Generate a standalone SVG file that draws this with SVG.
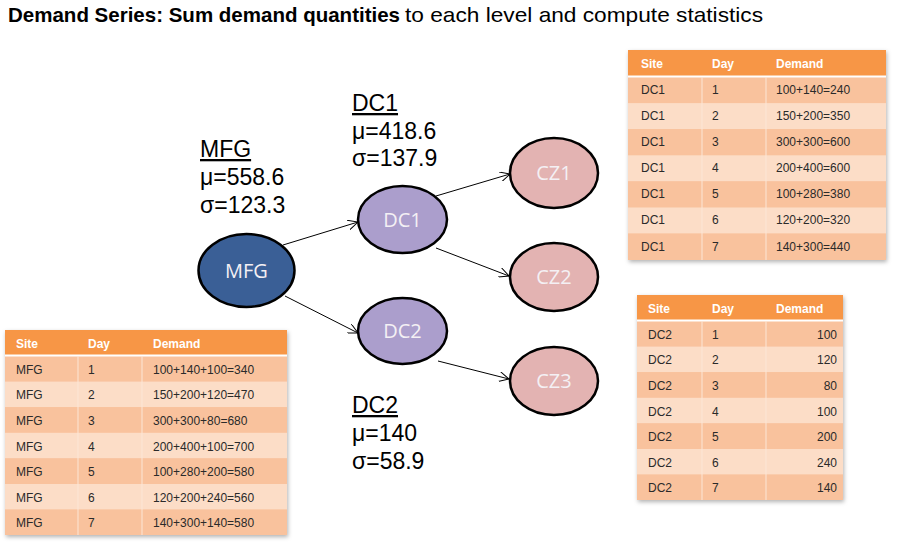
<svg xmlns="http://www.w3.org/2000/svg" width="898" height="551" viewBox="0 0 898 551">
<defs>
<style>
.title{font-family:"Liberation Sans",Arial,sans-serif;font-size:21px;fill:#000}
.lbl{font-family:"Liberation Sans",Arial,sans-serif;font-size:23px;fill:#000}
.nd{stroke:#000;stroke-width:2.5}
.ntx{font-family:"Open Sans","Liberation Sans",sans-serif;font-size:20px;fill:#F4F0F4;text-anchor:middle}
.hdr{fill:#F79646}
.odd{fill:#F9C29D}
.even{fill:#FCDDC7}
.th{font-family:"Liberation Sans",Arial,sans-serif;font-size:12px;font-weight:bold;fill:#fff}
.td{font-family:"Liberation Sans",Arial,sans-serif;font-size:12px;fill:#2a2a2a}
.sep{stroke:#FCE6D6;stroke-width:1}
.conn{stroke:#000;stroke-width:1;fill:none;marker-end:url(#arr)}
</style>
<marker id="arr" viewBox="0 0 10 10" refX="10" refY="5" markerWidth="10" markerHeight="10" markerUnits="userSpaceOnUse" orient="auto">
<path d="M0,0 L10,5 L0,10" fill="none" stroke="#000" stroke-width="1"/>
</marker>
<filter id="sh" x="-5%" y="-5%" width="110%" height="110%">
<feDropShadow dx="1" dy="2" stdDeviation="2" flood-color="#000" flood-opacity="0.3"/>
</filter>
</defs>
<rect width="898" height="551" fill="#fff"/>
<g id="title">
<text class="title" x="8" y="22" font-weight="bold" textLength="392" lengthAdjust="spacingAndGlyphs">Demand Series: Sum demand quantities</text>
<text class="title" x="405" y="22" textLength="358" lengthAdjust="spacingAndGlyphs">to each level and compute statistics</text>
</g>
<g id="connectors">
<line class="conn" x1="283" y1="245" x2="358" y2="222"/>
<line class="conn" x1="285" y1="296" x2="358" y2="333"/>
<line class="conn" x1="436" y1="196" x2="510" y2="174"/>
<line class="conn" x1="436" y1="248" x2="509" y2="276"/>
<line class="conn" x1="438" y1="361" x2="509" y2="379"/>
</g>
<g id="node-MFG"><ellipse class="nd" cx="246.5" cy="270.5" rx="48" ry="36.5" fill="#3A5F96"/><text class="ntx" x="246.5" y="277.5">MFG</text></g>
<g id="node-DC1"><ellipse class="nd" cx="402.5" cy="219.5" rx="44.5" ry="33.5" fill="#AB9ECC"/><text class="ntx" x="402.5" y="226.5">DC1</text></g>
<g id="node-DC2"><ellipse class="nd" cx="402.5" cy="331" rx="44.5" ry="33" fill="#AB9ECC"/><text class="ntx" x="402.5" y="338">DC2</text></g>
<g id="node-CZ1"><ellipse class="nd" cx="554" cy="173" rx="44" ry="35" fill="#E3B3B2"/><text class="ntx" x="554" y="180">CZ1</text></g>
<g id="node-CZ2"><ellipse class="nd" cx="554" cy="277" rx="44" ry="34" fill="#E3B3B2"/><text class="ntx" x="554" y="284">CZ2</text></g>
<g id="node-CZ3"><ellipse class="nd" cx="554" cy="381" rx="44" ry="34" fill="#E3B3B2"/><text class="ntx" x="554" y="388">CZ3</text></g>
<g id="label-MFG">
<text class="lbl" x="200" y="157" text-decoration="underline">MFG</text>
<text class="lbl" x="200" y="185">μ=558.6</text>
<text class="lbl" x="200" y="213">σ=123.3</text>
</g>
<g id="label-DC1">
<text class="lbl" x="352" y="111" text-decoration="underline">DC1</text>
<text class="lbl" x="352" y="139">μ=418.6</text>
<text class="lbl" x="352" y="166">σ=137.9</text>
</g>
<g id="label-DC2">
<text class="lbl" x="352" y="413" text-decoration="underline">DC2</text>
<text class="lbl" x="352" y="441">μ=140</text>
<text class="lbl" x="352" y="469">σ=58.9</text>
</g>
<g id="table-DC1">
<rect x="628" y="50" width="258" height="210" fill="#F9C29D" filter="url(#sh)"/>
<rect class="hdr" x="628" y="50" width="258" height="26"/>
<rect class="odd" x="628" y="77" width="258" height="26.1"/>
<rect class="even" x="628" y="103.1" width="258" height="26.1"/>
<rect class="odd" x="628" y="129.2" width="258" height="26.1"/>
<rect class="even" x="628" y="155.3" width="258" height="26.1"/>
<rect class="odd" x="628" y="181.4" width="258" height="26.1"/>
<rect class="even" x="628" y="207.5" width="258" height="26.1"/>
<rect class="odd" x="628" y="233.6" width="258" height="26.4" fill="#F8B88B"/>
<line x1="628" y1="76.5" x2="886" y2="76.5" stroke="#fff" stroke-width="2"/>
<line class="sep" x1="702" y1="77" x2="702" y2="260"/>
<line class="sep" x1="766" y1="77" x2="766" y2="260"/>
<text class="th" x="641" y="68">Site</text><text class="th" x="712" y="68">Day</text><text class="th" x="776" y="68">Demand</text>
<text class="td" x="641" y="94">DC1</text><text class="td" x="712" y="94">1</text><text class="td" x="776" y="94">100+140=240</text>
<text class="td" x="641" y="120">DC1</text><text class="td" x="712" y="120">2</text><text class="td" x="776" y="120">150+200=350</text>
<text class="td" x="641" y="146">DC1</text><text class="td" x="712" y="146">3</text><text class="td" x="776" y="146">300+300=600</text>
<text class="td" x="641" y="172">DC1</text><text class="td" x="712" y="172">4</text><text class="td" x="776" y="172">200+400=600</text>
<text class="td" x="641" y="198">DC1</text><text class="td" x="712" y="198">5</text><text class="td" x="776" y="198">100+280=380</text>
<text class="td" x="641" y="224">DC1</text><text class="td" x="712" y="224">6</text><text class="td" x="776" y="224">120+200=320</text>
<text class="td" x="641" y="251">DC1</text><text class="td" x="712" y="251">7</text><text class="td" x="776" y="251">140+300=440</text>
</g>
<g id="table-DC2">
<rect x="637" y="295" width="206" height="205" fill="#F9C29D" filter="url(#sh)"/>
<rect class="hdr" x="637" y="295" width="206" height="25"/>
<rect class="odd" x="637" y="321" width="206" height="25.6"/>
<rect class="even" x="637" y="346.6" width="206" height="25.6"/>
<rect class="odd" x="637" y="372.2" width="206" height="25.6"/>
<rect class="even" x="637" y="397.8" width="206" height="25.6"/>
<rect class="odd" x="637" y="423.4" width="206" height="25.6"/>
<rect class="even" x="637" y="449" width="206" height="25.6"/>
<rect class="odd" x="637" y="474.6" width="206" height="25.4" fill="#F8B88B"/>
<line x1="637" y1="320.5" x2="843" y2="320.5" stroke="#fff" stroke-width="2"/>
<line class="sep" x1="702" y1="321" x2="702" y2="500"/>
<line class="sep" x1="766" y1="321" x2="766" y2="500"/>
<text class="th" x="648" y="313">Site</text><text class="th" x="712" y="313">Day</text><text class="th" x="776" y="313">Demand</text>
<text class="td" x="648" y="339">DC2</text><text class="td" x="712" y="339">1</text><text class="td" x="837" y="339" text-anchor="end">100</text>
<text class="td" x="648" y="364">DC2</text><text class="td" x="712" y="364">2</text><text class="td" x="837" y="364" text-anchor="end">120</text>
<text class="td" x="648" y="390">DC2</text><text class="td" x="712" y="390">3</text><text class="td" x="837" y="390" text-anchor="end">80</text>
<text class="td" x="648" y="416">DC2</text><text class="td" x="712" y="416">4</text><text class="td" x="837" y="416" text-anchor="end">100</text>
<text class="td" x="648" y="441">DC2</text><text class="td" x="712" y="441">5</text><text class="td" x="837" y="441" text-anchor="end">200</text>
<text class="td" x="648" y="467">DC2</text><text class="td" x="712" y="467">6</text><text class="td" x="837" y="467" text-anchor="end">240</text>
<text class="td" x="648" y="492">DC2</text><text class="td" x="712" y="492">7</text><text class="td" x="837" y="492" text-anchor="end">140</text>
</g>
<g id="table-MFG">
<rect x="5" y="330" width="282" height="205" fill="#F9C29D" filter="url(#sh)"/>
<rect class="hdr" x="5" y="330" width="282" height="25"/>
<rect class="odd" x="5" y="356" width="282" height="25.6"/>
<rect class="even" x="5" y="381.6" width="282" height="25.6"/>
<rect class="odd" x="5" y="407.2" width="282" height="25.6"/>
<rect class="even" x="5" y="432.8" width="282" height="25.6"/>
<rect class="odd" x="5" y="458.4" width="282" height="25.6"/>
<rect class="even" x="5" y="484" width="282" height="25.6"/>
<rect class="odd" x="5" y="509.6" width="282" height="25.4" fill="#F8B88B"/>
<line x1="5" y1="355.5" x2="287" y2="355.5" stroke="#fff" stroke-width="2"/>
<line class="sep" x1="78" y1="356" x2="78" y2="535"/>
<line class="sep" x1="142" y1="356" x2="142" y2="535"/>
<text class="th" x="16" y="348">Site</text><text class="th" x="88" y="348">Day</text><text class="th" x="153" y="348">Demand</text>
<text class="td" x="16" y="374">MFG</text><text class="td" x="88" y="374">1</text><text class="td" x="153" y="374">100+140+100=340</text>
<text class="td" x="16" y="399">MFG</text><text class="td" x="88" y="399">2</text><text class="td" x="153" y="399">150+200+120=470</text>
<text class="td" x="16" y="425">MFG</text><text class="td" x="88" y="425">3</text><text class="td" x="153" y="425">300+300+80=680</text>
<text class="td" x="16" y="451">MFG</text><text class="td" x="88" y="451">4</text><text class="td" x="153" y="451">200+400+100=700</text>
<text class="td" x="16" y="476">MFG</text><text class="td" x="88" y="476">5</text><text class="td" x="153" y="476">100+280+200=580</text>
<text class="td" x="16" y="502">MFG</text><text class="td" x="88" y="502">6</text><text class="td" x="153" y="502">120+200+240=560</text>
<text class="td" x="16" y="527">MFG</text><text class="td" x="88" y="527">7</text><text class="td" x="153" y="527">140+300+140=580</text>
</g>
</svg>
